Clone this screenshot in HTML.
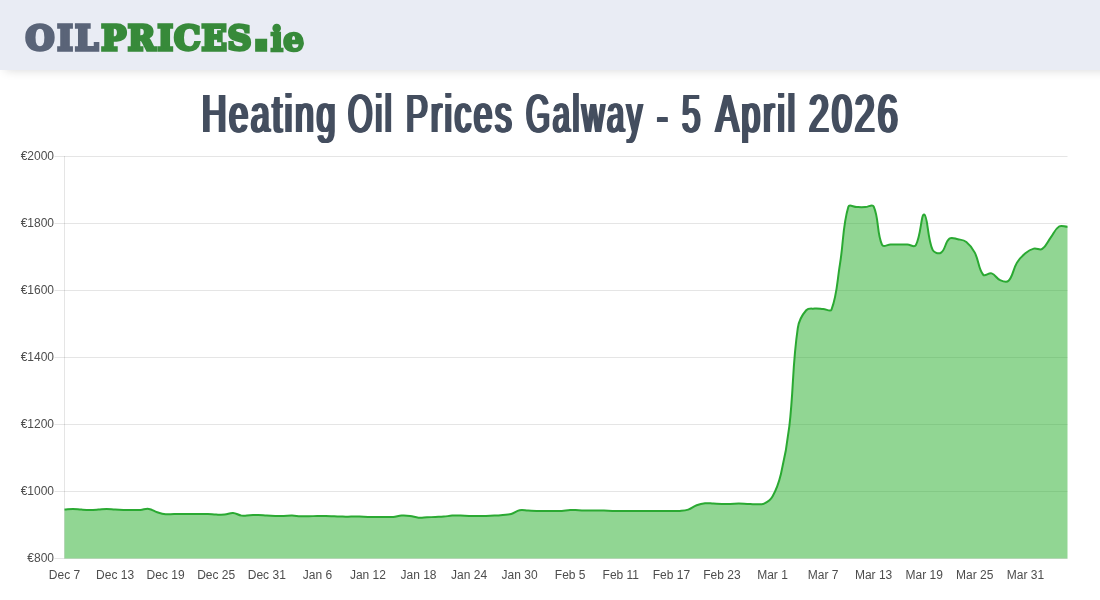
<!DOCTYPE html>
<html lang="en"><head><meta charset="utf-8"><title>Heating Oil Prices Galway</title>
<style>
html,body{margin:0;padding:0;background:#fff;}
body{width:1100px;height:600px;overflow:hidden;font-family:"Liberation Sans",sans-serif;}
.page{position:relative;width:1100px;height:600px;overflow:hidden;background:#fff;}
.hdr{position:absolute;left:0;top:0;width:1140px;height:70px;background:#e9ecf4;box-shadow:0 5px 10px -5px rgba(0,0,0,.16);}
.lg{position:absolute;left:0;top:0;}
.lt{font-family:"DejaVu Serif","Liberation Serif",serif;font-weight:bold;font-size:33.9px;stroke-width:3.4;stroke-linejoin:miter;}
.lt .a{fill:#5a6478;stroke:#5a6478;}
.lt .b{fill:#378a3a;stroke:#378a3a;}
.lt .d{font-family:"DejaVu Sans","Liberation Sans",sans-serif;}
h1{position:absolute;left:0;top:0;margin:0;width:1100px;height:0;font-weight:normal;font-size:53.4px;letter-spacing:4.5px;color:#444e5f;text-shadow:-2.60px 0 0 #444e5f,-1.30px 0 0 #444e5f,1.30px 0 0 #444e5f,2.60px 0 0 #444e5f;}
h1 span{position:absolute;top:84.1px;line-height:60px;white-space:nowrap;transform-origin:0 0;}
.chart{position:absolute;left:0;top:0;}
.g{stroke:rgba(0,0,0,.1);stroke-width:1;}
.fill{fill:rgba(36,173,40,.5);stroke:none;}
.line{fill:none;stroke:#2aa932;stroke-width:2;stroke-linejoin:round;}
.t{font-family:"Liberation Sans",sans-serif;font-size:12px;fill:#4d4d4d;}
</style></head><body><div class="page">
<div class="hdr"><svg class="lg" width="330" height="70" viewBox="0 0 330 70"><text y="49.9" transform="scale(0.980 1)" class="lt"><tspan class="a" x="25.91 58.45 76.63">OIL</tspan><tspan class="b" x="103.41 130.43 160.85 177.49 205.52 232.06">PRICES</tspan><tspan class="b d" x="256.96" style="font-size:50.5px">.</tspan><tspan class="b" x="275.93 288.74" style="font-size:34.0px;stroke-width:2.4" dy="1.0">ie</tspan></text></svg></div>
<h1><span style="left:201.73px;transform:scaleX(0.6327)">Heating</span> <span style="left:347.80px;transform:scaleX(0.5904)">Oil</span> <span style="left:406.06px;transform:scaleX(0.6183)">Prices</span> <span style="left:526.00px;transform:scaleX(0.5793)">Galway</span> <span style="left:656.90px;transform-origin:0 33.5px;transform:translateY(2.0px) scale(0.6056,1.15)">-</span> <span style="left:681.80px;transform:scaleX(0.6233)">5</span> <span style="left:715.77px;transform:scaleX(0.6349)">April</span> <span style="left:809.00px;transform:scaleX(0.6707)">2026</span></h1>
<svg class="chart" width="1100" height="600" viewBox="0 0 1100 600">
<line x1="54.5" x2="1067.5" y1="558.5" y2="558.5" class="g"/>
<line x1="54.5" x2="1067.5" y1="491.5" y2="491.5" class="g"/>
<line x1="54.5" x2="1067.5" y1="424.5" y2="424.5" class="g"/>
<line x1="54.5" x2="1067.5" y1="357.5" y2="357.5" class="g"/>
<line x1="54.5" x2="1067.5" y1="290.5" y2="290.5" class="g"/>
<line x1="54.5" x2="1067.5" y1="223.5" y2="223.5" class="g"/>
<line x1="54.5" x2="1067.5" y1="156.5" y2="156.5" class="g"/>
<line x1="64.5" x2="64.5" y1="156.0" y2="558.5" class="g"/>
<path d="M64.50 509.59 C67.87 509.32 69.56 508.92 72.93 508.92 C76.30 508.92 77.98 509.39 81.36 509.59 C84.72 509.79 86.41 509.93 89.79 509.93 C93.16 509.93 94.85 509.79 98.21 509.59 C101.59 509.39 103.27 508.92 106.64 508.92 C110.01 508.92 111.70 509.39 115.07 509.59 C118.44 509.79 120.13 509.86 123.50 509.93 C126.87 509.99 128.56 509.93 131.93 509.93 C135.30 509.93 137.00 510.13 140.36 509.93 C143.74 509.72 145.53 508.47 148.79 508.92 C152.27 509.40 153.77 511.17 157.21 512.27 C160.51 513.32 162.23 513.94 165.64 514.28 C168.97 514.61 170.70 514.01 174.07 513.95 C177.44 513.88 179.13 513.95 182.50 513.95 C185.87 513.95 187.56 513.95 190.93 513.95 C194.30 513.95 195.99 513.95 199.36 513.95 C202.73 513.95 204.42 513.81 207.79 513.95 C211.16 514.08 212.84 514.48 216.21 514.62 C219.58 514.75 221.30 514.95 224.64 514.62 C228.05 514.28 229.75 512.74 233.07 512.94 C236.49 513.14 238.05 515.14 241.50 515.62 C244.79 516.08 246.56 515.42 249.93 515.28 C253.30 515.15 254.99 514.88 258.36 514.95 C261.73 515.02 263.41 515.42 266.79 515.62 C270.15 515.82 271.84 515.89 275.21 515.96 C278.58 516.02 280.27 516.02 283.64 515.96 C287.02 515.89 288.70 515.55 292.07 515.62 C295.45 515.69 297.12 516.16 300.50 516.29 C303.87 516.42 305.56 516.36 308.93 516.29 C312.30 516.22 313.98 516.02 317.36 515.96 C320.73 515.89 322.42 515.89 325.79 515.96 C329.16 516.02 330.84 516.16 334.21 516.29 C337.59 516.42 339.27 516.56 342.64 516.62 C346.01 516.69 347.70 516.62 351.07 516.62 C354.44 516.62 356.13 516.56 359.50 516.62 C362.87 516.69 364.56 516.89 367.93 516.96 C371.30 517.03 372.99 516.96 376.36 516.96 C379.73 516.96 381.41 516.96 384.79 516.96 C388.16 516.96 389.86 517.23 393.21 516.96 C396.61 516.69 398.25 515.82 401.64 515.62 C404.99 515.42 406.73 515.56 410.07 515.96 C413.47 516.36 415.10 517.36 418.50 517.63 C421.84 517.90 423.56 517.43 426.93 517.29 C430.30 517.16 431.99 517.09 435.36 516.96 C438.73 516.83 440.42 516.89 443.79 516.62 C447.17 516.36 448.83 515.82 452.21 515.62 C455.57 515.42 457.27 515.55 460.64 515.62 C464.02 515.69 465.70 515.89 469.07 515.96 C472.44 516.02 474.13 515.96 477.50 515.96 C480.87 515.96 482.56 516.02 485.93 515.96 C489.30 515.89 490.99 515.82 494.36 515.62 C497.73 515.42 499.42 515.28 502.79 514.95 C506.16 514.61 507.98 514.85 511.21 513.95 C514.72 512.97 516.13 510.96 519.64 510.26 C522.87 509.62 524.70 510.46 528.07 510.60 C531.44 510.73 533.13 510.86 536.50 510.93 C539.87 511.00 541.56 510.93 544.93 510.93 C548.30 510.93 549.99 510.93 553.36 510.93 C556.73 510.93 558.43 511.13 561.79 510.93 C565.17 510.73 566.83 510.06 570.21 509.93 C573.58 509.79 575.27 510.13 578.64 510.26 C582.01 510.39 583.70 510.53 587.07 510.60 C590.44 510.66 592.13 510.60 595.50 510.60 C598.87 510.60 600.56 510.53 603.93 510.60 C607.30 510.66 608.98 510.86 612.36 510.93 C615.73 511.00 617.41 510.93 620.79 510.93 C624.16 510.93 625.84 510.93 629.21 510.93 C632.59 510.93 634.27 510.93 637.64 510.93 C641.01 510.93 642.70 510.93 646.07 510.93 C649.44 510.93 651.13 510.93 654.50 510.93 C657.87 510.93 659.56 510.93 662.93 510.93 C666.30 510.93 667.99 510.93 671.36 510.93 C674.73 510.93 676.44 511.20 679.79 510.93 C683.18 510.66 685.02 510.67 688.21 509.59 C691.76 508.39 693.12 506.57 696.64 505.24 C699.86 504.02 701.65 503.56 705.07 503.23 C708.40 502.89 710.13 503.43 713.50 503.56 C716.87 503.69 718.56 503.83 721.93 503.89 C725.30 503.96 726.99 503.96 730.36 503.89 C733.73 503.83 735.41 503.56 738.79 503.56 C742.16 503.56 743.84 503.76 747.21 503.89 C750.59 504.03 752.28 504.30 755.64 504.23 C759.02 504.16 761.14 504.90 764.07 503.56 C767.88 501.82 770.38 500.23 772.50 496.52 C777.12 488.44 778.70 483.37 780.93 474.08 C785.45 455.23 787.13 445.49 789.36 426.18 C793.87 387.06 792.16 366.67 797.79 328.02 C798.91 320.31 801.52 315.67 806.21 310.26 C808.27 307.90 811.24 308.86 814.64 308.59 C817.98 308.32 819.70 308.72 823.07 308.93 C826.45 309.13 830.45 312.36 831.50 309.60 C837.20 294.54 836.95 282.53 839.93 264.37 C843.70 241.39 842.47 226.76 848.36 206.75 C849.21 203.85 853.41 207.02 856.79 207.08 C860.16 207.15 861.85 207.22 865.21 207.08 C868.59 206.95 872.45 203.74 873.64 206.42 C879.20 218.88 876.52 232.36 882.07 244.94 C883.26 247.63 887.13 244.67 890.50 244.61 C893.87 244.54 895.56 244.61 898.93 244.61 C902.30 244.61 903.99 244.47 907.36 244.61 C910.73 244.74 914.37 247.80 915.79 245.27 C921.12 235.74 921.07 213.58 924.21 214.45 C927.81 215.46 927.22 237.67 932.64 249.96 C933.96 252.94 938.71 254.24 941.07 252.64 C945.45 249.69 945.05 242.11 949.50 238.57 C951.79 236.75 954.63 238.59 957.93 239.25 C961.38 239.93 963.70 239.82 966.36 241.93 C970.45 245.18 972.32 247.84 974.79 252.64 C979.06 260.98 978.26 268.65 983.21 274.75 C985.00 276.96 988.66 272.47 991.64 273.42 C995.40 274.61 996.29 278.46 1000.07 280.12 C1003.04 281.41 1006.49 282.86 1008.50 280.79 C1013.24 275.89 1012.80 269.43 1016.93 262.69 C1019.54 258.44 1021.54 256.50 1025.36 253.31 C1028.28 250.88 1030.19 249.55 1033.79 248.62 C1036.93 247.81 1039.70 250.61 1042.21 248.96 C1046.44 246.19 1047.24 242.10 1050.64 237.57 C1053.98 233.12 1054.87 229.18 1059.07 226.51 C1061.62 224.90 1064.13 226.72 1067.50 226.85 L1067.50 558.50 L64.50 558.50 Z" class="fill"/>
<path d="M64.50 509.59 C67.87 509.32 69.56 508.92 72.93 508.92 C76.30 508.92 77.98 509.39 81.36 509.59 C84.72 509.79 86.41 509.93 89.79 509.93 C93.16 509.93 94.85 509.79 98.21 509.59 C101.59 509.39 103.27 508.92 106.64 508.92 C110.01 508.92 111.70 509.39 115.07 509.59 C118.44 509.79 120.13 509.86 123.50 509.93 C126.87 509.99 128.56 509.93 131.93 509.93 C135.30 509.93 137.00 510.13 140.36 509.93 C143.74 509.72 145.53 508.47 148.79 508.92 C152.27 509.40 153.77 511.17 157.21 512.27 C160.51 513.32 162.23 513.94 165.64 514.28 C168.97 514.61 170.70 514.01 174.07 513.95 C177.44 513.88 179.13 513.95 182.50 513.95 C185.87 513.95 187.56 513.95 190.93 513.95 C194.30 513.95 195.99 513.95 199.36 513.95 C202.73 513.95 204.42 513.81 207.79 513.95 C211.16 514.08 212.84 514.48 216.21 514.62 C219.58 514.75 221.30 514.95 224.64 514.62 C228.05 514.28 229.75 512.74 233.07 512.94 C236.49 513.14 238.05 515.14 241.50 515.62 C244.79 516.08 246.56 515.42 249.93 515.28 C253.30 515.15 254.99 514.88 258.36 514.95 C261.73 515.02 263.41 515.42 266.79 515.62 C270.15 515.82 271.84 515.89 275.21 515.96 C278.58 516.02 280.27 516.02 283.64 515.96 C287.02 515.89 288.70 515.55 292.07 515.62 C295.45 515.69 297.12 516.16 300.50 516.29 C303.87 516.42 305.56 516.36 308.93 516.29 C312.30 516.22 313.98 516.02 317.36 515.96 C320.73 515.89 322.42 515.89 325.79 515.96 C329.16 516.02 330.84 516.16 334.21 516.29 C337.59 516.42 339.27 516.56 342.64 516.62 C346.01 516.69 347.70 516.62 351.07 516.62 C354.44 516.62 356.13 516.56 359.50 516.62 C362.87 516.69 364.56 516.89 367.93 516.96 C371.30 517.03 372.99 516.96 376.36 516.96 C379.73 516.96 381.41 516.96 384.79 516.96 C388.16 516.96 389.86 517.23 393.21 516.96 C396.61 516.69 398.25 515.82 401.64 515.62 C404.99 515.42 406.73 515.56 410.07 515.96 C413.47 516.36 415.10 517.36 418.50 517.63 C421.84 517.90 423.56 517.43 426.93 517.29 C430.30 517.16 431.99 517.09 435.36 516.96 C438.73 516.83 440.42 516.89 443.79 516.62 C447.17 516.36 448.83 515.82 452.21 515.62 C455.57 515.42 457.27 515.55 460.64 515.62 C464.02 515.69 465.70 515.89 469.07 515.96 C472.44 516.02 474.13 515.96 477.50 515.96 C480.87 515.96 482.56 516.02 485.93 515.96 C489.30 515.89 490.99 515.82 494.36 515.62 C497.73 515.42 499.42 515.28 502.79 514.95 C506.16 514.61 507.98 514.85 511.21 513.95 C514.72 512.97 516.13 510.96 519.64 510.26 C522.87 509.62 524.70 510.46 528.07 510.60 C531.44 510.73 533.13 510.86 536.50 510.93 C539.87 511.00 541.56 510.93 544.93 510.93 C548.30 510.93 549.99 510.93 553.36 510.93 C556.73 510.93 558.43 511.13 561.79 510.93 C565.17 510.73 566.83 510.06 570.21 509.93 C573.58 509.79 575.27 510.13 578.64 510.26 C582.01 510.39 583.70 510.53 587.07 510.60 C590.44 510.66 592.13 510.60 595.50 510.60 C598.87 510.60 600.56 510.53 603.93 510.60 C607.30 510.66 608.98 510.86 612.36 510.93 C615.73 511.00 617.41 510.93 620.79 510.93 C624.16 510.93 625.84 510.93 629.21 510.93 C632.59 510.93 634.27 510.93 637.64 510.93 C641.01 510.93 642.70 510.93 646.07 510.93 C649.44 510.93 651.13 510.93 654.50 510.93 C657.87 510.93 659.56 510.93 662.93 510.93 C666.30 510.93 667.99 510.93 671.36 510.93 C674.73 510.93 676.44 511.20 679.79 510.93 C683.18 510.66 685.02 510.67 688.21 509.59 C691.76 508.39 693.12 506.57 696.64 505.24 C699.86 504.02 701.65 503.56 705.07 503.23 C708.40 502.89 710.13 503.43 713.50 503.56 C716.87 503.69 718.56 503.83 721.93 503.89 C725.30 503.96 726.99 503.96 730.36 503.89 C733.73 503.83 735.41 503.56 738.79 503.56 C742.16 503.56 743.84 503.76 747.21 503.89 C750.59 504.03 752.28 504.30 755.64 504.23 C759.02 504.16 761.14 504.90 764.07 503.56 C767.88 501.82 770.38 500.23 772.50 496.52 C777.12 488.44 778.70 483.37 780.93 474.08 C785.45 455.23 787.13 445.49 789.36 426.18 C793.87 387.06 792.16 366.67 797.79 328.02 C798.91 320.31 801.52 315.67 806.21 310.26 C808.27 307.90 811.24 308.86 814.64 308.59 C817.98 308.32 819.70 308.72 823.07 308.93 C826.45 309.13 830.45 312.36 831.50 309.60 C837.20 294.54 836.95 282.53 839.93 264.37 C843.70 241.39 842.47 226.76 848.36 206.75 C849.21 203.85 853.41 207.02 856.79 207.08 C860.16 207.15 861.85 207.22 865.21 207.08 C868.59 206.95 872.45 203.74 873.64 206.42 C879.20 218.88 876.52 232.36 882.07 244.94 C883.26 247.63 887.13 244.67 890.50 244.61 C893.87 244.54 895.56 244.61 898.93 244.61 C902.30 244.61 903.99 244.47 907.36 244.61 C910.73 244.74 914.37 247.80 915.79 245.27 C921.12 235.74 921.07 213.58 924.21 214.45 C927.81 215.46 927.22 237.67 932.64 249.96 C933.96 252.94 938.71 254.24 941.07 252.64 C945.45 249.69 945.05 242.11 949.50 238.57 C951.79 236.75 954.63 238.59 957.93 239.25 C961.38 239.93 963.70 239.82 966.36 241.93 C970.45 245.18 972.32 247.84 974.79 252.64 C979.06 260.98 978.26 268.65 983.21 274.75 C985.00 276.96 988.66 272.47 991.64 273.42 C995.40 274.61 996.29 278.46 1000.07 280.12 C1003.04 281.41 1006.49 282.86 1008.50 280.79 C1013.24 275.89 1012.80 269.43 1016.93 262.69 C1019.54 258.44 1021.54 256.50 1025.36 253.31 C1028.28 250.88 1030.19 249.55 1033.79 248.62 C1036.93 247.81 1039.70 250.61 1042.21 248.96 C1046.44 246.19 1047.24 242.10 1050.64 237.57 C1053.98 233.12 1054.87 229.18 1059.07 226.51 C1061.62 224.90 1064.13 226.72 1067.50 226.85" class="line"/>
<text x="54" y="561.9" text-anchor="end" class="t">€800</text>
<text x="54" y="494.9" text-anchor="end" class="t">€1000</text>
<text x="54" y="427.9" text-anchor="end" class="t">€1200</text>
<text x="54" y="360.9" text-anchor="end" class="t">€1400</text>
<text x="54" y="293.9" text-anchor="end" class="t">€1600</text>
<text x="54" y="226.9" text-anchor="end" class="t">€1800</text>
<text x="54" y="159.9" text-anchor="end" class="t">€2000</text>
<text x="64.5" y="578.5" text-anchor="middle" class="t">Dec 7</text>
<text x="115.1" y="578.5" text-anchor="middle" class="t">Dec 13</text>
<text x="165.6" y="578.5" text-anchor="middle" class="t">Dec 19</text>
<text x="216.2" y="578.5" text-anchor="middle" class="t">Dec 25</text>
<text x="266.8" y="578.5" text-anchor="middle" class="t">Dec 31</text>
<text x="317.4" y="578.5" text-anchor="middle" class="t">Jan 6</text>
<text x="367.9" y="578.5" text-anchor="middle" class="t">Jan 12</text>
<text x="418.5" y="578.5" text-anchor="middle" class="t">Jan 18</text>
<text x="469.1" y="578.5" text-anchor="middle" class="t">Jan 24</text>
<text x="519.6" y="578.5" text-anchor="middle" class="t">Jan 30</text>
<text x="570.2" y="578.5" text-anchor="middle" class="t">Feb 5</text>
<text x="620.8" y="578.5" text-anchor="middle" class="t">Feb 11</text>
<text x="671.4" y="578.5" text-anchor="middle" class="t">Feb 17</text>
<text x="721.9" y="578.5" text-anchor="middle" class="t">Feb 23</text>
<text x="772.5" y="578.5" text-anchor="middle" class="t">Mar 1</text>
<text x="823.1" y="578.5" text-anchor="middle" class="t">Mar 7</text>
<text x="873.6" y="578.5" text-anchor="middle" class="t">Mar 13</text>
<text x="924.2" y="578.5" text-anchor="middle" class="t">Mar 19</text>
<text x="974.8" y="578.5" text-anchor="middle" class="t">Mar 25</text>
<text x="1025.4" y="578.5" text-anchor="middle" class="t">Mar 31</text>
</svg>
</div></body></html>
